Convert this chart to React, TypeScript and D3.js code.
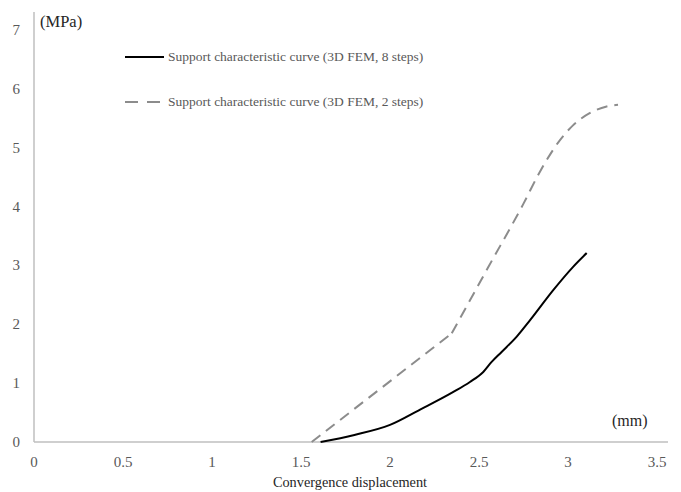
import React, { useRef, useEffect } from 'react';
import * as d3 from 'd3';

// Support characteristic curve, 8 steps (solid)
const steps8X = [1.61, 1.8, 2.0, 2.169, 2.356, 2.449, 2.524, 2.571, 2.627, 2.712, 2.787, 2.917, 3.03, 3.105];
const steps8Y = [0, 0.12, 0.29, 0.55, 0.85, 1.02, 1.19, 1.36, 1.53, 1.79, 2.07, 2.58, 2.98, 3.21];

// Support characteristic curve, 2 steps (dashed) - straight up to the knee, then smooth
const steps2X = [1.56, 2.347, 2.55, 2.75, 2.84, 2.955, 3.028, 3.124, 3.217, 3.281];
const steps2Y = [0, 1.846, 2.96, 4.05, 4.58, 5.13, 5.38, 5.59, 5.7, 5.73];

const xTicks = [0, 0.5, 1, 1.5, 2, 2.5, 3, 3.5];
const yTicks = [0, 1, 2, 3, 4, 5, 6, 7];

const legendLabels = [
  'Support characteristic curve (3D FEM, 8 steps)',
  'Support characteristic curve (3D FEM, 2 steps)',
];

const W = 681;
const H = 492;
const FONT = '"Liberation Serif", "Times New Roman", serif';
const TEXT = '#595959';
const DARK = '#262626';
const AXIS = '#bfbfbf';

const App = () => {
  const svgRef = useRef<SVGSVGElement>(null);

  useEffect(() => {
    const svg = d3.select(svgRef.current);
    svg.selectAll('*').remove();

    const x = d3.scaleLinear().domain([0, 3.5]).range([34, 657]);
    const y = d3.scaleLinear().domain([0, 7]).range([442, 30]);

    // axis lines
    svg.append('line')
      .attr('x1', x(0)).attr('x2', 668)
      .attr('y1', y(0)).attr('y2', y(0))
      .attr('stroke', AXIS).attr('stroke-width', 1.5);
    svg.append('line')
      .attr('x1', x(0)).attr('x2', x(0))
      .attr('y1', y(0)).attr('y2', 12)
      .attr('stroke', AXIS).attr('stroke-width', 1.5);

    // tick labels
    svg.selectAll('.xt')
      .data(xTicks)
      .enter()
      .append('text')
      .attr('x', d => x(d))
      .attr('y', 467)
      .attr('text-anchor', 'middle')
      .style('font-family', FONT)
      .style('font-size', '15px')
      .style('fill', TEXT)
      .text(d => String(d));

    svg.selectAll('.yt')
      .data(yTicks)
      .enter()
      .append('text')
      .attr('x', 20)
      .attr('y', d => y(d) + 5)
      .attr('text-anchor', 'end')
      .style('font-family', FONT)
      .style('font-size', '15px')
      .style('fill', TEXT)
      .text(d => String(d));

    // unit and axis labels
    svg.append('text')
      .attr('x', 40).attr('y', 27)
      .style('font-family', FONT).style('font-size', '16.5px').style('fill', DARK)
      .text('(MPa)');
    svg.append('text')
      .attr('x', 612).attr('y', 426)
      .style('font-family', FONT).style('font-size', '16px').style('fill', DARK)
      .text('(mm)');
    svg.append('text')
      .attr('x', 350).attr('y', 487)
      .attr('text-anchor', 'middle')
      .style('font-family', FONT).style('font-size', '14.3px').style('fill', DARK)
      .text('Convergence displacement');

    const gen = d3.line<[number, number]>()
      .x(d => x(d[0]))
      .y(d => y(d[1]));

    // solid curve
    const pts8 = steps8X.map((v, i) => [v, steps8Y[i]] as [number, number]);
    svg.append('path')
      .attr('d', gen.curve(d3.curveMonotoneX)(pts8))
      .attr('fill', 'none')
      .attr('stroke', '#000')
      .attr('stroke-width', 2);

    // dashed curve: linear first leg, smooth after the knee
    const pts2 = steps2X.map((v, i) => [v, steps2Y[i]] as [number, number]);
    svg.append('path')
      .attr('d', gen.curve(d3.curveLinear)(pts2.slice(0, 2)))
      .attr('fill', 'none')
      .attr('stroke', '#8c8c8c')
      .attr('stroke-width', 2)
      .attr('stroke-dasharray', '11,7');
    svg.append('path')
      .attr('d', gen.curve(d3.curveMonotoneX)(pts2.slice(1)))
      .attr('fill', 'none')
      .attr('stroke', '#8c8c8c')
      .attr('stroke-width', 2)
      .attr('stroke-dasharray', '11,7');

    // legend
    const legendStyles = [
      { color: '#000', dash: null },
      { color: '#8c8c8c', dash: '13,9' },
    ];
    const legend = svg.append('g');
    legendStyles.forEach((s, i) => {
      const ly = 57 + i * 45;
      legend.append('line')
        .attr('x1', 125).attr('x2', 164)
        .attr('y1', ly).attr('y2', ly)
        .attr('stroke', s.color)
        .attr('stroke-width', 2)
        .attr('stroke-dasharray', s.dash);
      legend.append('text')
        .attr('x', 168).attr('y', ly + 4)
        .style('font-family', FONT)
        .style('font-size', '13.5px')
        .style('fill', TEXT)
        .text(legendLabels[i]);
    });
  }, []);

  return (
    <svg
      ref={svgRef}
      width={W}
      height={H}
      style={{ position: 'absolute', left: 0, top: 0, background: '#fff' }}
    />
  );
};

export default App;
